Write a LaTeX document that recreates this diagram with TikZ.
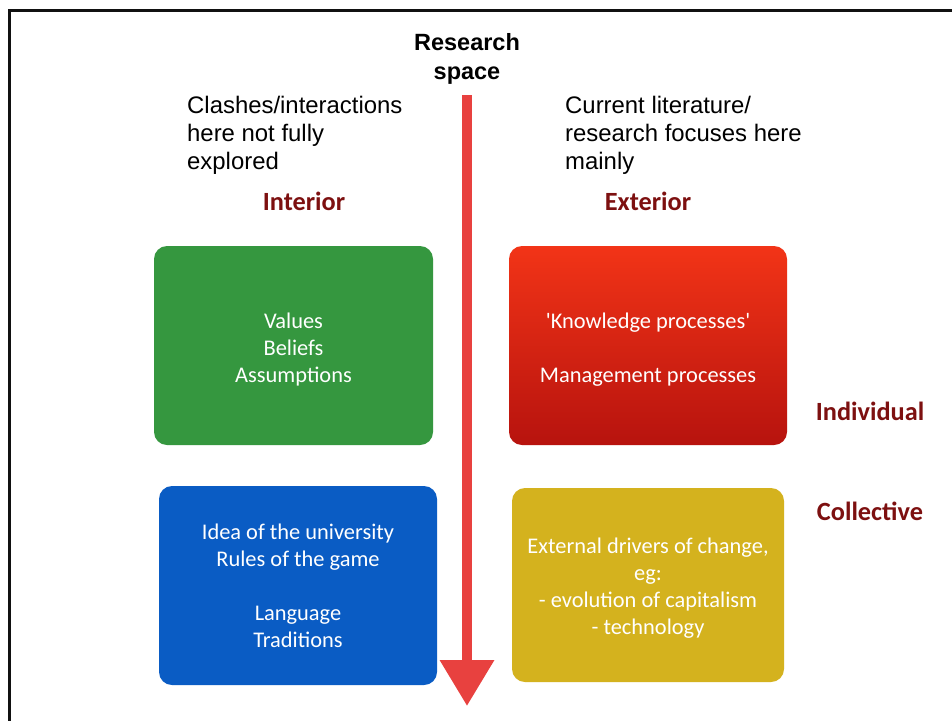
\documentclass[tikz,border=0pt]{standalone}
\usepackage{fontspec}
\setmainfont{Liberation Sans}
\newfontfamily\carlito{Carlito}
\usetikzlibrary{arrows.meta}

\definecolor{framegray}{HTML}{111111}
\definecolor{labelred}{HTML}{7D1010}
\definecolor{arrowred}{HTML}{E8413F}
\definecolor{boxgreen}{HTML}{35973F}
\definecolor{boxredtop}{HTML}{F23417}
\definecolor{boxredbot}{HTML}{B7130E}
\definecolor{boxblue}{HTML}{0A5CC4}
\definecolor{boxgold}{HTML}{D4B21E}

\tikzset{
  quadbox/.style={rounded corners=13pt, inner sep=0pt},
  quadtext/.style={inner sep=0pt, align=center, text=white,
    font=\carlito\fontsize{22.4}{27}\selectfont},
  axislabel/.style={inner sep=0pt, text=labelred,
    font=\carlito\bfseries\fontsize{26.3}{30}\selectfont},
  note/.style={inner sep=0pt, anchor=west, align=left,
    font=\fontsize{23.9}{28}\selectfont},
  title/.style={inner sep=0pt, align=center,
    font=\bfseries\fontsize{23.5}{29}\selectfont},
  researcharrow/.style={draw=arrowred, line width=10pt,
    -{Triangle[width=52pt,length=46pt]}},
}

\begin{document}
\begin{tikzpicture}[x=1pt,y=-1pt]
  \useasboundingbox (0,0) rectangle (952,720);
  \clip (0,0) rectangle (952,720);
  \fill[white] (0,0) rectangle (952,720);

  % slide frame, open towards right and bottom
  \draw[framegray, line width=2.2pt] (9.5,730) -- (9.5,10.5) -- (960,10.5);

  % vertical axis
  \node[title] (rs) at (467,58.5) {Research\\space};
  \coordinate (axtop) at (467,95);
  \coordinate (axtip) at (467,706);
  \draw[researcharrow] (axtop) -- (axtip);

  % notes above the two halves
  \node[note] (clash) at (187,135) {Clashes/interactions\\here not fully\\explored};
  \node[note] (curr) at (565,135) {Current literature/\\research focuses here\\mainly};

  % axis labels
  \node[axislabel] (int) at (304,201) {Interior};
  \node[axislabel] (ext) at (648,201) {Exterior};
  \node[axislabel] (ind) at (870,411) {Individual};
  \node[axislabel] (col) at (870,511) {Collective};

  % quadrants
  \node[quadbox, fill=boxgreen, minimum width=279pt, minimum height=199pt]
    (ii) at (293.5,345.5) {};
  \node[quadbox, top color=boxredtop, bottom color=boxredbot,
    minimum width=278pt, minimum height=199pt]
    (ie) at (648,345.5) {};
  \node[quadbox, fill=boxblue, minimum width=278pt, minimum height=199pt]
    (ci) at (298,585.5) {};
  \node[quadbox, fill=boxgold, minimum width=272pt, minimum height=194pt]
    (ce) at (648,585) {};

  % quadrant contents
  \node[quadtext] (iit) at ([yshift=-4pt]ii.center) {Values\\Beliefs\\Assumptions};
  \node[quadtext] (iet) at ([yshift=-4pt]ie.center) {'Knowledge processes'\\[27pt]Management processes};
  \node[quadtext] (cit) at ([yshift=-0.5pt]ci.center) {Idea of the university\\Rules of the game\\[27pt]Language\\Traditions};
  \node[quadtext] (cet) at ([yshift=-3.5pt]ce.center) {External drivers of change,\\eg:\\- evolution of capitalism\\- technology};
\end{tikzpicture}
\end{document}
